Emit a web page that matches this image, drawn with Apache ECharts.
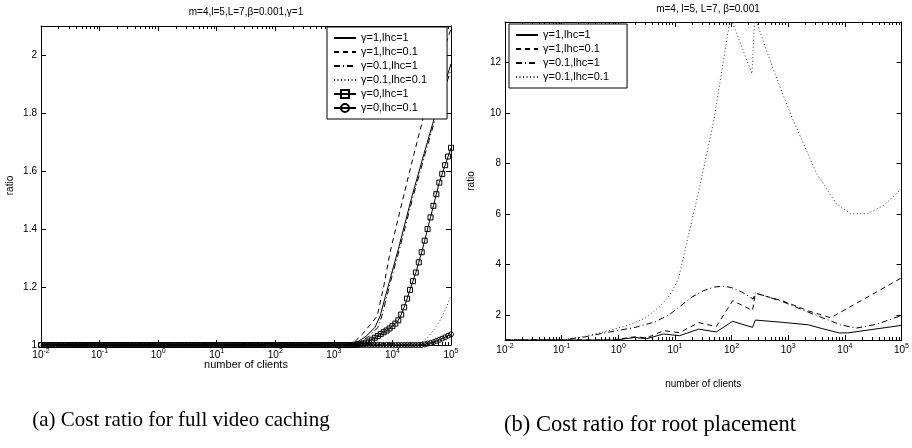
<!DOCTYPE html>
<html>
<head>
<meta charset="utf-8">
<script src="https://cdn.jsdelivr.net/npm/echarts@6/dist/echarts.min.js"></script>
<style>
  html, body { margin: 0; padding: 0; background: #fff; }
  #chart { width: 912px; height: 448px; }
</style>
</head>
<body>
<div id="chart"></div>
<script>
// Legend labels (shared by both panels)
const seriesNames = ['γ=1,lhc=1', 'γ=1,lhc=0.1', 'γ=0.1,lhc=1', 'γ=0.1,lhc=0.1', 'γ=0,lhc=1', 'γ=0,lhc=0.1'];

// Panel (a): full video caching. x values are log10(number of clients).
const aSolidExp   = [-2, 3.2, 3.4, 3.55, 3.7, 3.79, 3.95, 4.1, 4.33, 4.54, 4.74, 5];
const aSolidRatio = [1, 1, 1.01, 1.03, 1.06, 1.10, 1.22, 1.33, 1.51, 1.66, 1.80, 1.97];

const aDashExp   = [-2, 3.2, 3.35, 3.5, 3.62, 3.74, 3.85, 3.96, 4.21, 4.37, 4.56, 4.78, 5];
const aDashRatio = [1, 1, 1.01, 1.04, 1.07, 1.10, 1.20, 1.32, 1.53, 1.66, 1.81, 1.96, 2.09];

const aDashDotExp   = [-2, 3.25, 3.45, 3.6, 3.75, 3.82, 3.97, 4.12, 4.35, 4.56, 4.76, 5];
const aDashDotRatio = [1, 1, 1.01, 1.03, 1.06, 1.10, 1.22, 1.33, 1.51, 1.66, 1.80, 1.95];

const aDotExp   = [-2, 4.35, 4.5, 4.6, 4.7, 4.8, 4.9, 5];
const aDotRatio = [1, 1, 1.01, 1.025, 1.05, 1.08, 1.12, 1.17];

// Sample points of the two marker curves (20 per decade)
const sampleExp = [
  -2.00, -1.95, -1.90, -1.85, -1.80, -1.75, -1.70, -1.65, -1.60, -1.55, -1.50, -1.45, -1.40, -1.35, -1.30, -1.25, -1.20, -1.15, -1.10, -1.05,
  -1.00, -0.95, -0.90, -0.85, -0.80, -0.75, -0.70, -0.65, -0.60, -0.55, -0.50, -0.45, -0.40, -0.35, -0.30, -0.25, -0.20, -0.15, -0.10, -0.05,
   0.00,  0.05,  0.10,  0.15,  0.20,  0.25,  0.30,  0.35,  0.40,  0.45,  0.50,  0.55,  0.60,  0.65,  0.70,  0.75,  0.80,  0.85,  0.90,  0.95,
   1.00,  1.05,  1.10,  1.15,  1.20,  1.25,  1.30,  1.35,  1.40,  1.45,  1.50,  1.55,  1.60,  1.65,  1.70,  1.75,  1.80,  1.85,  1.90,  1.95,
   2.00,  2.05,  2.10,  2.15,  2.20,  2.25,  2.30,  2.35,  2.40,  2.45,  2.50,  2.55,  2.60,  2.65,  2.70,  2.75,  2.80,  2.85,  2.90,  2.95,
   3.00,  3.05,  3.10,  3.15,  3.20,  3.25,  3.30,  3.35,  3.40,  3.45,  3.50,  3.55,  3.60,  3.65,  3.70,  3.75,  3.80,  3.85,  3.90,  3.95,
   4.00,  4.05,  4.10,  4.15,  4.20,  4.25,  4.30,  4.35,  4.40,  4.45,  4.50,  4.55,  4.60,  4.65,  4.70,  4.75,  4.80,  4.85,  4.90,  4.95,
   5.00
];
const aSquareRatio = [
  1, 1, 1, 1, 1, 1, 1, 1, 1, 1, 1, 1, 1, 1, 1, 1, 1, 1, 1, 1,
  1, 1, 1, 1, 1, 1, 1, 1, 1, 1, 1, 1, 1, 1, 1, 1, 1, 1, 1, 1,
  1, 1, 1, 1, 1, 1, 1, 1, 1, 1, 1, 1, 1, 1, 1, 1, 1, 1, 1, 1,
  1, 1, 1, 1, 1, 1, 1, 1, 1, 1, 1, 1, 1, 1, 1, 1, 1, 1, 1, 1,
  1, 1, 1, 1, 1, 1, 1, 1, 1, 1, 1, 1, 1, 1, 1, 1, 1, 1, 1, 1,
  1, 1, 1, 1, 1, 1, 1, 1.001, 1.002, 1.003, 1.005, 1.008, 1.012, 1.018, 1.025, 1.031, 1.038, 1.044, 1.050, 1.057,
  1.065, 1.074, 1.085, 1.105, 1.13, 1.16, 1.19, 1.22, 1.25, 1.285, 1.32, 1.36, 1.40, 1.44, 1.48, 1.52, 1.56, 1.59, 1.62, 1.65,
  1.68
];
const aCircleRatio = [
  1, 1, 1, 1, 1, 1, 1, 1, 1, 1, 1, 1, 1, 1, 1, 1, 1, 1, 1, 1,
  1, 1, 1, 1, 1, 1, 1, 1, 1, 1, 1, 1, 1, 1, 1, 1, 1, 1, 1, 1,
  1, 1, 1, 1, 1, 1, 1, 1, 1, 1, 1, 1, 1, 1, 1, 1, 1, 1, 1, 1,
  1, 1, 1, 1, 1, 1, 1, 1, 1, 1, 1, 1, 1, 1, 1, 1, 1, 1, 1, 1,
  1, 1, 1, 1, 1, 1, 1, 1, 1, 1, 1, 1, 1, 1, 1, 1, 1, 1, 1, 1,
  1, 1, 1, 1, 1, 1, 1, 1, 1, 1, 1, 1, 1, 1, 1, 1, 1, 1, 1, 1,
  1, 1, 1, 1, 1, 1, 1, 1, 1, 1, 1, 1.002, 1.005, 1.007, 1.010, 1.014, 1.018, 1.022, 1.027, 1.032,
  1.037
];

// Panel (b): root placement
const bSolidExp   = [-2, -0.05, 0.3, 0.5, 0.8, 1.08, 1.42, 1.73, 2.02, 2.37, 2.42, 2.9, 3.36, 3.6, 3.9, 4.05, 5];
const bSolidRatio = [1, 1, 1.10, 1.05, 1.24, 1.17, 1.43, 1.32, 1.74, 1.50, 1.79, 1.70, 1.60, 1.45, 1.28, 1.28, 1.58];

const bDashExp   = [-2, -0.1, 0.3, 0.5, 0.8, 1.08, 1.42, 1.73, 2.02, 2.37, 2.42, 2.9, 3.36, 3.75, 5];
const bDashRatio = [1, 1, 1.13, 1.08, 1.37, 1.29, 1.69, 1.53, 2.56, 2.17, 2.85, 2.55, 2.15, 1.88, 3.46];

const bDashDotExp   = [-2, -1.0, -0.6, -0.2, 0.3, 0.65, 0.9, 1.1, 1.3, 1.5, 1.7, 1.85, 2.0, 2.2, 2.38, 2.42, 2.9, 3.48, 3.93, 4.2, 4.57, 5];
const bDashDotRatio = [1, 1, 1.12, 1.30, 1.50, 1.72, 2.0, 2.35, 2.70, 2.95, 3.10, 3.13, 3.08, 2.88, 2.62, 2.87, 2.52, 1.99, 1.60, 1.47, 1.63, 1.97];

const bDotExp   = [-2, -1.0, -0.6, -0.2, 0.2, 0.5, 0.72, 0.9, 1.06, 1.18, 1.45, 1.69, 1.98, 2.36, 2.41, 2.74, 3.07, 3.5, 3.85, 4.1, 4.4, 4.7, 5];
const bDotRatio = [1, 1, 1.14, 1.35, 1.60, 1.90, 2.30, 2.75, 3.40, 4.57, 7.2, 9.73, 13.8, 11.55, 13.8, 11.7, 9.8, 7.6, 6.4, 6.0, 6.0, 6.35, 7.0];

// Axis ranges and tick labels
const xDecades = [-2, -1, 0, 1, 2, 3, 4, 5];
const aRatioTicks = [1, 1.2, 1.4, 1.6, 1.8, 2];
const bRatioTicks = [2, 4, 6, 8, 10, 12];

const titleA = 'm=4,l=5,L=7,β=0.001,γ=1';
const titleB = 'm=4, l=5, L=7, β=0.001';
const captionA = '(a) Cost ratio for full video caching';
const captionB = '(b) Cost ratio for root placement';

// ---------------------------------------------------------------------------
const FONT = '"Liberation Sans", Arial, sans-serif';
const SERIF = '"Liberation Serif", "DejaVu Serif", serif';
const INK = '#000';
const NO_FILL = 'rgba(255,255,255,0)';

function toPoints(exps, vals) {
  return exps.map((e, i) => [Math.pow(10, e), vals[i]]);
}

// minor ticks of a log axis: 2..9 within each decade
const minorTicks = [];
for (let d = xDecades[0]; d < xDecades[xDecades.length - 1]; d++) {
  for (let m = 2; m <= 9; m++) minorTicks.push(m * Math.pow(10, d));
}

const xMin = Math.pow(10, xDecades[0]);
const xMax = Math.pow(10, xDecades[xDecades.length - 1]);

function logAxis(grid, opts) {
  return Object.assign({
    gridIndex: grid,
    type: 'log',
    logBase: 10,
    min: xMin,
    max: xMax,
    splitNumber: 7,
    axisLine: { show: true, onZero: false, lineStyle: { color: INK, width: 1 } },
    axisTick: { show: true, inside: true, length: 5, lineStyle: { color: INK, width: 1 } },
    axisLabel: { show: false },
    splitLine: { show: false },
    minorTick: { show: false },
    silent: true
  }, opts);
}

function expLabel(v) {
  return '{b|10}{s|' + Math.round(Math.log10(v)) + '}';
}

const labelRich = {
  b: { fontSize: 10, fontFamily: FONT, color: INK },
  s: { fontSize: 7, fontFamily: FONT, color: INK, padding: [0, 0, 7, 0] }
};

const xAxes = [];
[0, 1].forEach(g => {
  xAxes.push(logAxis(g, {
    position: 'bottom',
    axisLabel: { show: true, formatter: expLabel, rich: labelRich, margin: 3 },
    name: 'number of clients',
    nameLocation: 'middle',
    nameMoveOverlap: false,
    nameGap: g === 0 ? 14 : 39,
    nameTextStyle: { fontSize: g === 0 ? 11 : 10, fontFamily: FONT, color: INK }
  }));
  xAxes.push(logAxis(g, { position: 'top' }));
  xAxes.push(logAxis(g, { position: 'bottom', axisLine: { show: false },
    axisTick: { show: true, inside: true, length: 3, customValues: minorTicks, lineStyle: { color: INK, width: 1 } } }));
  xAxes.push(logAxis(g, { position: 'top', axisLine: { show: false },
    axisTick: { show: true, inside: true, length: 3, customValues: minorTicks, lineStyle: { color: INK, width: 1 } } }));
});

function ratioAxis(grid, pos, withLabels, range) {
  const ax = {
    gridIndex: grid,
    type: 'value',
    position: pos,
    min: range.min,
    max: range.max,
    axisLine: { show: true, onZero: false, lineStyle: { color: INK, width: 1 } },
    axisTick: { show: true, inside: true, length: 5, lineStyle: { color: INK, width: 1 } },
    axisLabel: {
      show: withLabels, fontSize: 10, fontFamily: FONT, color: INK, margin: 4,
      showMinLabel: range.showMin, showMaxLabel: false,
      formatter: v => (range.ticks.some(t => Math.abs(t - v) < 1e-9) ? String(v) : '')
    },
    splitLine: { show: false },
    silent: true
  };
  if (range.interval) ax.interval = range.interval;
  if (range.splitNumber) ax.splitNumber = range.splitNumber;
  if (withLabels) {
    ax.name = 'ratio';
    ax.nameLocation = 'middle';
    ax.nameMoveOverlap = false;
    ax.nameGap = range.nameGap;
    ax.nameTextStyle = { fontSize: 10, fontFamily: FONT, color: INK };
  }
  return ax;
}

const rangeA = { min: aRatioTicks[0], max: 2.1, interval: 0.2, ticks: aRatioTicks, showMin: true, nameGap: 26 };
const rangeB = { min: 1, max: 13.6, splitNumber: 6, ticks: bRatioTicks, showMin: false, nameGap: 29 };

const yAxes = [
  ratioAxis(0, 'left', true, rangeA),
  ratioAxis(0, 'right', false, rangeA),
  ratioAxis(1, 'left', true, rangeB),
  ratioAxis(1, 'right', false, rangeB)
];

const DASH = [5, 4];
const DASHDOT = [6, 3, 1, 3];
const DOT = [1, 2.5];

function lineSeries(name, grid, exps, vals, type, color) {
  return {
    name: name,
    type: 'line',
    xAxisIndex: grid * 4,
    yAxisIndex: grid * 2,
    data: toPoints(exps, vals),
    symbol: 'none',
    clip: true,
    animation: false,
    silent: true,
    z: 3,
    lineStyle: { color: color || INK, width: 1, type: type },
    itemStyle: { color: NO_FILL, borderWidth: 0 }
  };
}

function markerSeries(name, grid, exps, vals, symbol) {
  return {
    name: name,
    type: 'line',
    xAxisIndex: grid * 4,
    yAxisIndex: grid * 2,
    data: toPoints(exps, vals),
    symbol: symbol,
    symbolSize: 5,
    showSymbol: true,
    clip: true,
    animation: false,
    silent: true,
    z: 3,
    lineStyle: { color: INK, width: 1, type: 'solid' },
    itemStyle: { color: NO_FILL, borderColor: INK, borderWidth: 1 }
  };
}

const DOT_INK = '#333';

const series = [
  lineSeries(seriesNames[0], 0, aSolidExp, aSolidRatio, 'solid'),
  lineSeries(seriesNames[1], 0, aDashExp, aDashRatio, DASH),
  lineSeries(seriesNames[2], 0, aDashDotExp, aDashDotRatio, DASHDOT),
  lineSeries(seriesNames[3], 0, aDotExp, aDotRatio, DOT, DOT_INK),
  markerSeries(seriesNames[4], 0, sampleExp, aSquareRatio, 'rect'),
  markerSeries(seriesNames[5], 0, sampleExp, aCircleRatio, 'circle'),
  lineSeries(seriesNames[0], 1, bSolidExp, bSolidRatio, 'solid'),
  lineSeries(seriesNames[1], 1, bDashExp, bDashRatio, DASH),
  lineSeries(seriesNames[2], 1, bDashDotExp, bDashDotRatio, DASHDOT),
  lineSeries(seriesNames[3], 1, bDotExp, bDotRatio, DOT, DOT_INK)
];

function legendBox(names, left, top, padRight) {
  return {
    data: names.map((n, i) => (i < 4
      ? { name: n, itemStyle: { color: NO_FILL, borderWidth: 0, opacity: 0 } }
      : { name: n })),
    orient: 'vertical',
    left: left,
    top: top,
    itemWidth: 22,
    itemHeight: 10,
    itemGap: 2,
    padding: [5, padRight, 5, 6],
    backgroundColor: '#fff',
    borderColor: INK,
    borderWidth: 1,
    borderRadius: 0,
    selectedMode: false,
    textStyle: { fontSize: 11, lineHeight: 12, fontFamily: FONT, color: INK },
    z: 10
  };
}

const option = {
  backgroundColor: '#fff',
  animation: false,
  grid: [
    { left: 41, top: 26, width: 410, height: 319, containLabel: false },
    { left: 505, top: 22, width: 406, height: 318, containLabel: false }
  ],
  xAxis: xAxes,
  yAxis: yAxes,
  legend: [
    legendBox(seriesNames, 327, 27, 20),
    legendBox(seriesNames.slice(0, 4), 509, 24, 18)
  ],
  series: series,
  graphic: [
    { type: 'text', x: 246, y: 12, style: { text: titleA, fontSize: 10, fontFamily: FONT, fill: INK, textAlign: 'center', textVerticalAlign: 'middle' } },
    { type: 'text', x: 708, y: 9, style: { text: titleB, fontSize: 10, fontFamily: FONT, fill: INK, textAlign: 'center', textVerticalAlign: 'middle' } },
    { type: 'text', x: 181, y: 420, style: { text: captionA, fontSize: 21, fontFamily: SERIF, fill: INK, textAlign: 'center', textVerticalAlign: 'middle' } },
    { type: 'text', x: 650, y: 425, style: { text: captionB, fontSize: 22.5, fontFamily: SERIF, fill: INK, textAlign: 'center', textVerticalAlign: 'middle' } }
  ]
};

const chart = echarts.init(document.getElementById('chart'), null, { renderer: 'canvas' });
chart.setOption(option);
</script>
</body>
</html>
